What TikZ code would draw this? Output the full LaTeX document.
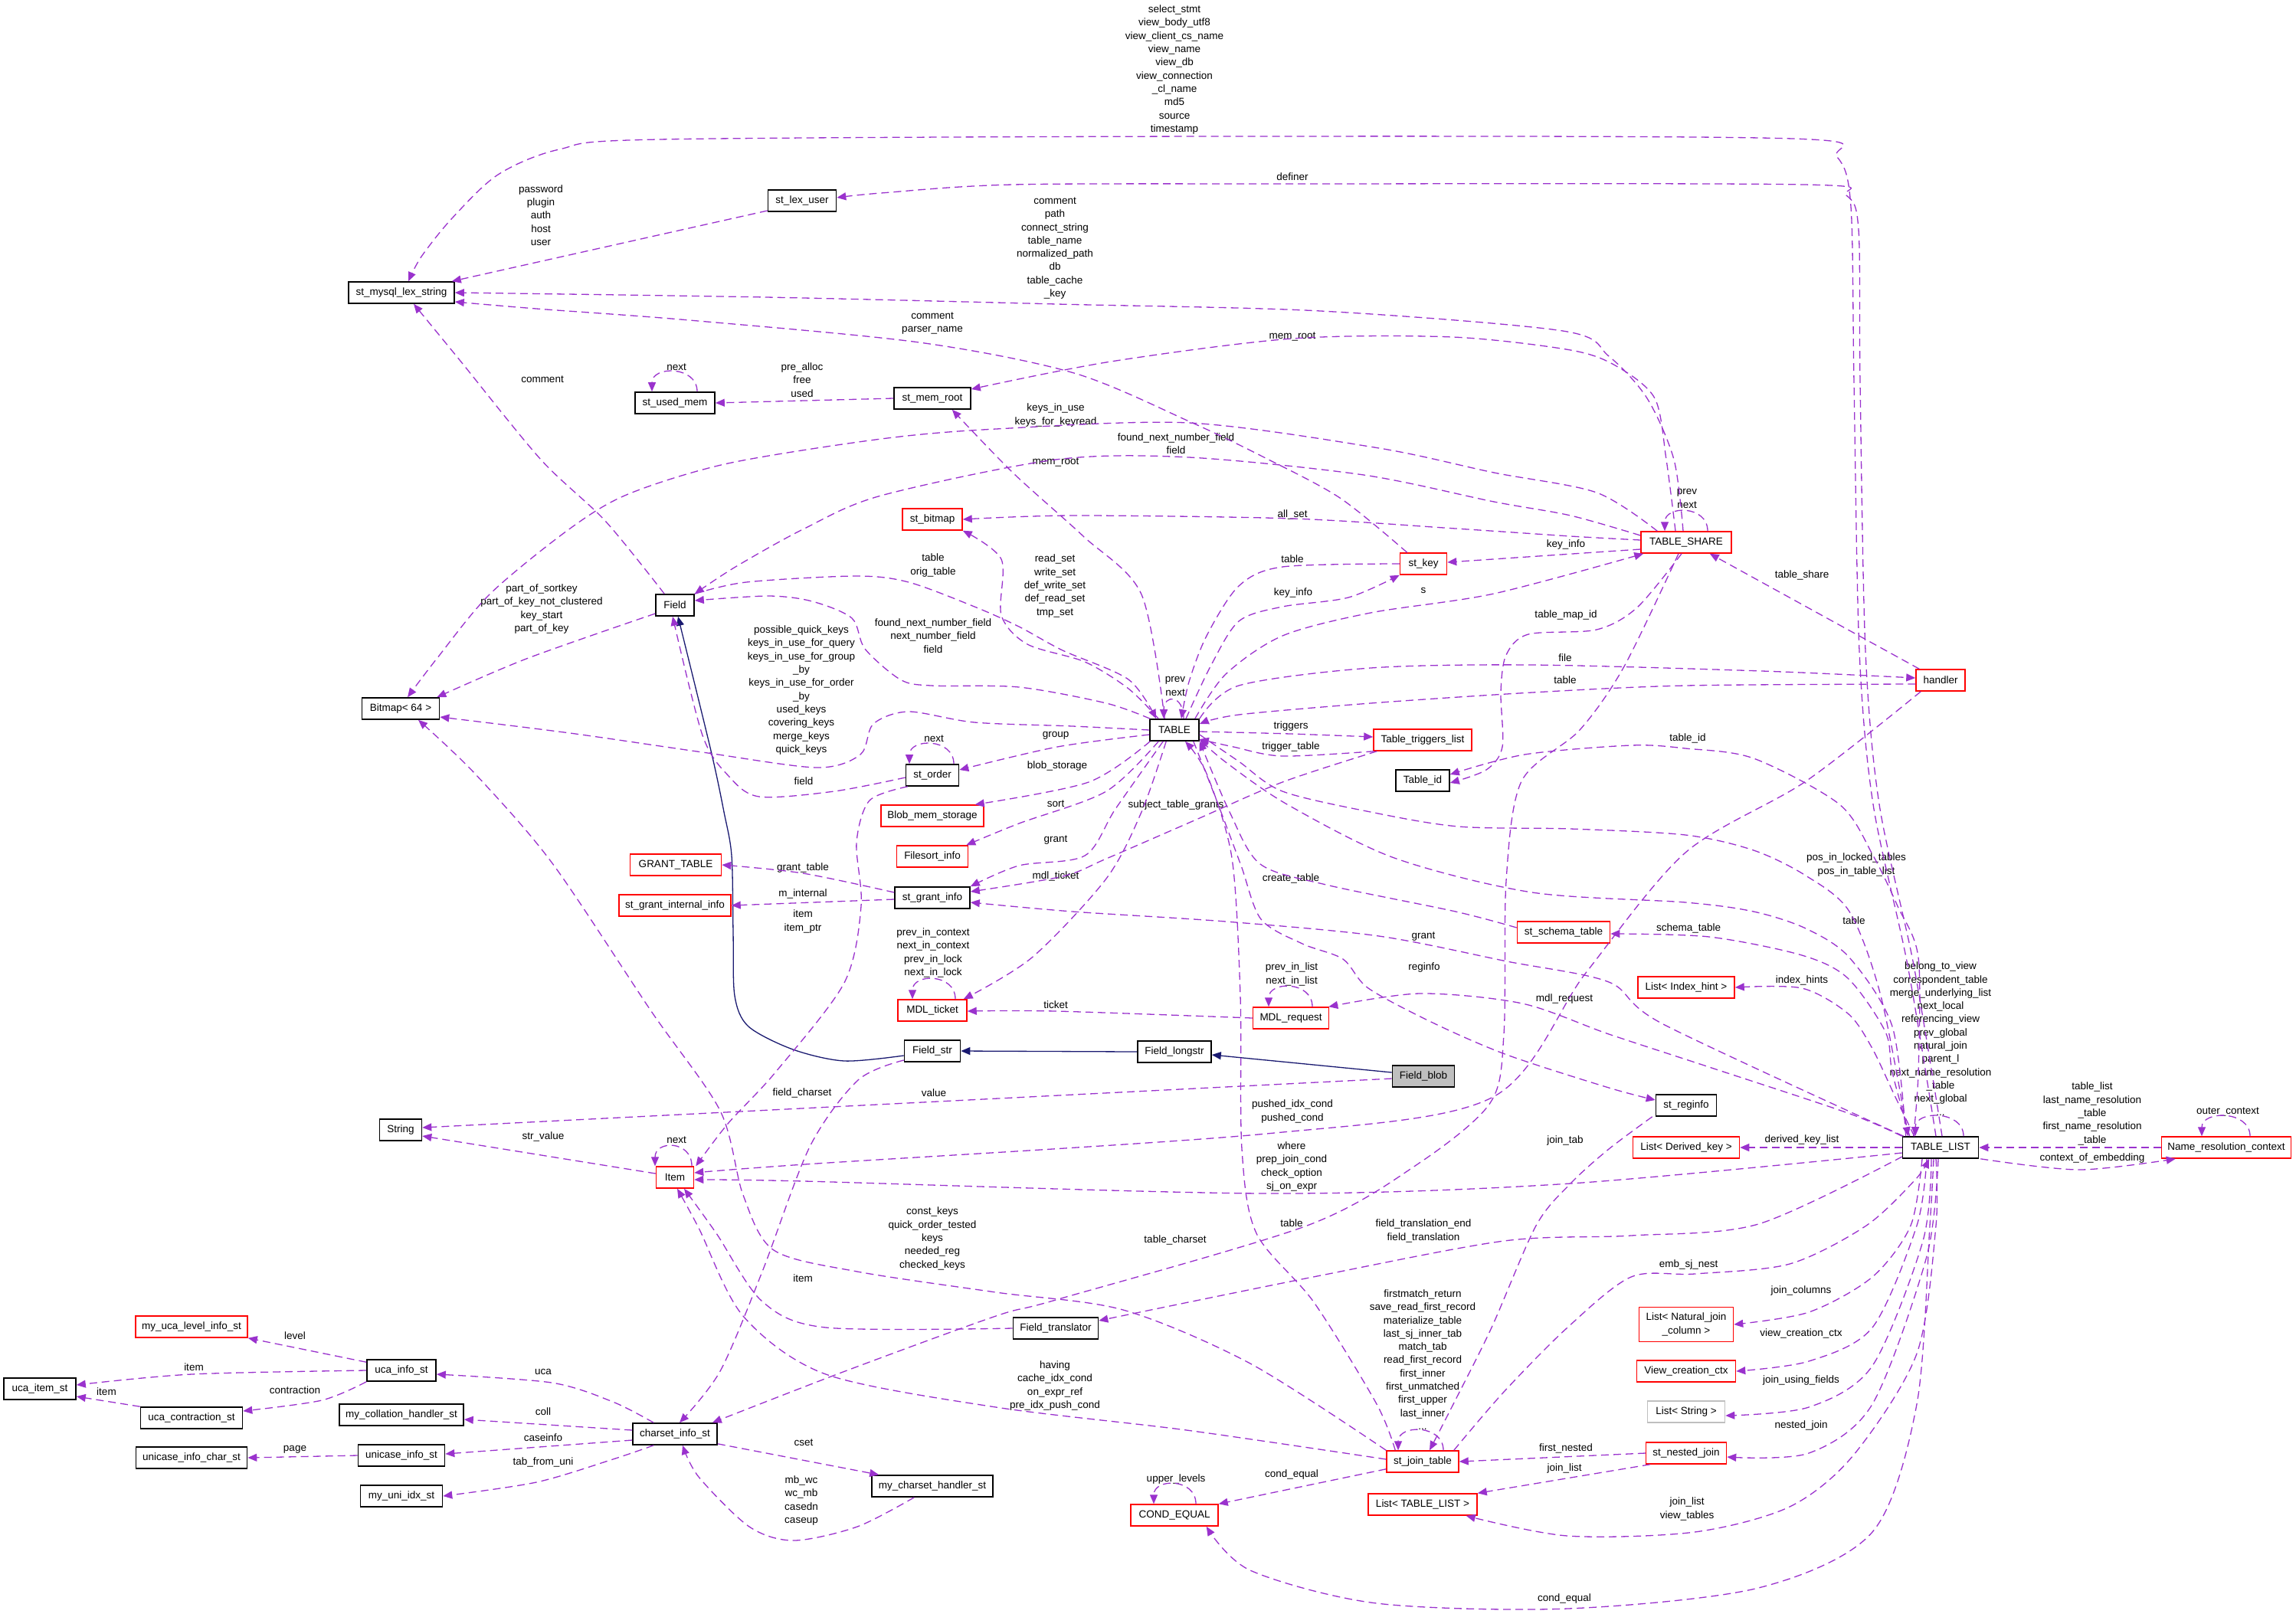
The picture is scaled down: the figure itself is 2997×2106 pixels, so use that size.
\documentclass[tikz,border=0pt]{standalone}
\usepackage{fontspec}
\setmainfont{Liberation Sans}
\usetikzlibrary{arrows.meta,calc}
\definecolor{depc}{RGB}{154,50,205}
\definecolor{inhc}{RGB}{25,25,112}
\definecolor{boxred}{RGB}{255,0,0}
\newcommand{\dgfont}{\fontsize{6.75}{8.65}\selectfont}
\tikzset{
  cls/.style={draw=black, line width=0.8pt, fill=white, minimum height=14pt, inner xsep=2pt, inner ysep=1pt, font=\dgfont},
  rcls/.style={cls, draw=boxred, line width=0.75pt},
  lbl/.style={font=\dgfont, align=center, inner sep=0pt},
  dep/.style={draw=depc, line width=0.65pt, dash pattern=on 5pt off 3pt, -{Triangle[length=6pt,width=5pt]}},
  inh/.style={draw=inhc, line width=0.65pt, -{Triangle[length=6pt,width=5pt]}},
}
\begin{document}
\begin{tikzpicture}[x=0.5pt,y=-0.5pt]
\useasboundingbox (0,0) rectangle (2997,2106);
% ---------- nodes ----------
\node[cls,minimum width=69pt] (smls) at (524,382) {st\_mysql\_lex\_string};
\node[cls,minimum width=44.5pt] (slu) at (1047,262) {st\_lex\_user};
\node[cls,minimum width=52pt] (sum) at (881,526) {st\_used\_mem};
\node[cls,minimum width=50pt] (smr) at (1217,520) {st\_mem\_root};
\node[rcls,minimum width=39pt] (sbm) at (1217,678) {st\_bitmap};
\node[cls,minimum width=25pt] (fld) at (881,790) {Field};
\node[cls,minimum width=50.5pt] (bmp) at (523,925) {Bitmap< 64 >};
\node[cls,minimum width=32pt] (tbl) at (1533,953) {TABLE};
\node[rcls,minimum width=59pt] (tsh) at (2201,708) {TABLE\_SHARE};
\node[rcls,minimum width=32pt] (hnd) at (2533,888) {handler};
\node[rcls,minimum width=30.5pt] (skey) at (1858,736) {st\_key};
\node[rcls,minimum width=64pt] (ttl) at (1857,966) {Table\_triggers\_list};
\node[cls,minimum width=35pt] (tid) at (1857,1019) {Table\_id};
\node[cls,minimum width=34.5pt] (sord) at (1217,1012) {st\_order};
\node[rcls,minimum width=67pt] (bms) at (1217,1065) {Blob\_mem\_storage};
\node[rcls,minimum width=46.5pt] (fsi) at (1217,1118) {Filesort\_info};
\node[rcls,minimum width=59.5pt] (gtab) at (882,1129) {GRANT\_TABLE};
\node[rcls,minimum width=73pt] (sgii) at (881,1182) {st\_grant\_internal\_info};
\node[cls,minimum width=49pt] (sgi) at (1217,1172) {st\_grant\_info};
\node[rcls,minimum width=45pt] (mdlt) at (1217,1319) {MDL\_ticket};
\node[rcls,minimum width=49.5pt] (mdlr) at (1685,1329) {MDL\_request};
\node[cls,minimum width=36.5pt] (fstr) at (1217,1372) {Field\_str};
\node[cls,minimum width=48pt] (flong) at (1533,1373) {Field\_longstr};
\node[cls,fill=gray!50,minimum width=40.5pt] (fblob) at (1858,1405) {Field\_blob};
\node[rcls,minimum width=60.5pt] (sst) at (2041,1217) {st\_schema\_table};
\node[rcls,minimum width=63pt] (lih) at (2201,1289) {List< Index\_hint >};
\node[cls,minimum width=39.5pt] (sreg) at (2201,1443) {st\_reginfo};
\node[rcls,minimum width=69.5pt] (ldk) at (2201,1498) {List< Derived\_key >};
\node[cls,minimum width=49.5pt] (tlist) at (2533,1498) {TABLE\_LIST};
\node[rcls,minimum width=84.5pt] (nrc) at (2906,1498) {Name\_resolution\_context};
\node[cls,minimum width=27.5pt] (str) at (523,1475) {String};
\node[rcls,minimum width=24.5pt] (item) at (881,1537) {Item};
\node[cls,minimum width=55.5pt] (ftr) at (1378,1734) {Field\_translator};
\node[rcls,minimum width=61.5pt,minimum height=22.5pt,align=center] (lnj) at (2201,1729) {List< Natural\_join\\\_column >};
\node[rcls,minimum width=64.5pt] (vcc) at (2201,1790) {View\_creation\_ctx};
\node[cls,draw=gray!50,minimum width=50.5pt] (lstr) at (2201,1843) {List< String >};
\node[rcls,minimum width=52.5pt] (snj) at (2201,1897) {st\_nested\_join};
\node[rcls,minimum width=47pt] (sjt) at (1857,1908) {st\_join\_table};
\node[rcls,minimum width=57pt] (ceq) at (1533,1978) {COND\_EQUAL};
\node[rcls,minimum width=71pt] (ltl) at (1857,1964) {List< TABLE\_LIST >};
\node[rcls,minimum width=73pt] (muls) at (250,1732) {my\_uca\_level\_info\_st};
\node[cls,minimum width=45pt] (uis) at (524,1789) {uca\_info\_st};
\node[cls,minimum width=47pt] (uit) at (52,1813) {uca\_item\_st};
\node[cls,minimum width=66.5pt] (ucs) at (250,1851) {uca\_contraction\_st};
\node[cls,minimum width=81pt] (mchs) at (524,1847) {my\_collation\_handler\_st};
\node[cls,minimum width=55pt] (cis) at (881,1872) {charset\_info\_st};
\node[cls,minimum width=72.5pt] (uics) at (250,1903) {unicase\_info\_char\_st};
\node[cls,minimum width=56.5pt] (uicis) at (524,1900) {unicase\_info\_st};
\node[cls,minimum width=53.5pt] (muis) at (524,1953) {my\_uni\_idx\_st};
\node[cls,minimum width=79pt] (mcsh) at (1217,1940) {my\_charset\_handler\_st};
% ---------- labels ----------
\node[lbl] (l01) at (706,281) {password\\plugin\\auth\\host\\user};
\node[lbl] (l02) at (708,495) {comment};
\node[lbl] (l03) at (883,479) {next};
\node[lbl] (l04) at (1047,496) {pre\_alloc\\free\\used};
\node[lbl] (l05) at (1533,91) {select\_stmt\\view\_body\_utf8\\view\_client\_cs\_name\\view\_name\\view\_db\\view\_connection\\\_cl\_name\\md5\\source\\timestamp};
\node[lbl] (l06) at (1687,231) {definer};
\node[lbl] (l07) at (1377,324) {comment\\path\\connect\_string\\table\_name\\normalized\_path\\db\\table\_cache\\\_key};
\node[lbl] (l08) at (1217,422) {comment\\parser\_name};
\node[lbl] (l09) at (1687,439) {mem\_root};
\node[lbl] (l10) at (1378,542) {keys\_in\_use\\keys\_for\_keyread};
\node[lbl] (l11) at (1535,579) {found\_next\_number\_field\\field};
\node[lbl] (l12) at (1378,603) {mem\_root};
\node[lbl] (l13) at (1687,672) {all\_set};
\node[lbl] (l14) at (2202,651) {prev\\next};
\node[lbl] (l15) at (2044,711) {key\_info};
\node[lbl] (l16) at (2352,751) {table\_share};
\node[lbl] (l17) at (2044,803) {table\_map\_id};
\node[lbl] (l18) at (2043,859) {file};
\node[lbl] (l19) at (2043,888) {table};
\node[lbl] (l20) at (2203,964) {table\_id};
\node[lbl] (l21) at (707,795) {part\_of\_sortkey\\part\_of\_key\_not\_clustered\\key\_start\\part\_of\_key};
\node[lbl] (l22) at (1218,738) {table\\orig\_table};
\node[lbl] (l23) at (1218,830) {found\_next\_number\_field\\next\_number\_field\\field};
\node[lbl] (l24) at (1046,901) {possible\_quick\_keys\\keys\_in\_use\_for\_query\\keys\_in\_use\_for\_group\\\_by\\keys\_in\_use\_for\_order\\\_by\\used\_keys\\covering\_keys\\merge\_keys\\quick\_keys};
\node[lbl] (l25) at (1219,964) {next};
\node[lbl] (l26) at (1049,1020) {field};
\node[lbl] (l27) at (1377,765) {read\_set\\write\_set\\def\_write\_set\\def\_read\_set\\tmp\_set};
\node[lbl] (l28) at (1687,730) {table};
\node[lbl] (l29) at (1688,774) {key\_info};
\node[lbl] (l30) at (1858,771) {s};
\node[lbl] (l31) at (1534,896) {prev\\next};
\node[lbl] (l32) at (1378,960) {group};
\node[lbl] (l33) at (1685,948) {triggers};
\node[lbl] (l34) at (1685,975) {trigger\_table};
\node[lbl] (l35) at (1380,1000) {blob\_storage};
\node[lbl] (l36) at (1378,1049) {sort};
\node[lbl] (l37) at (1535,1051) {subject\_table\_grants};
\node[lbl] (l38) at (1378,1097) {grant};
\node[lbl] (l39) at (1378,1144) {mdl\_ticket};
\node[lbl] (l40) at (1685,1147) {create\_table};
\node[lbl] (l41) at (1858,1223) {grant};
\node[lbl] (l42) at (1048,1133) {grant\_table};
\node[lbl] (l43) at (1048,1167) {m\_internal};
\node[lbl] (l44) at (1048,1203) {item\\item\_ptr};
\node[lbl] (l45) at (1218,1244) {prev\_in\_context\\next\_in\_context\\prev\_in\_lock\\next\_in\_lock};
\node[lbl] (l46) at (1378,1312) {ticket};
\node[lbl] (l47) at (1686,1272) {prev\_in\_list\\next\_in\_list};
\node[lbl] (l48) at (1859,1263) {reginfo};
\node[lbl] (l49) at (2042,1304) {mdl\_request};
\node[lbl] (l50) at (1047,1427) {field\_charset};
\node[lbl] (l51) at (1219,1427) {value};
\node[lbl] (l52) at (1687,1451) {pushed\_idx\_cond\\pushed\_cond};
\node[lbl] (l53) at (1686,1523) {where\\prep\_join\_cond\\check\_option\\sj\_on\_expr};
\node[lbl] (l54) at (2043,1489) {join\_tab};
\node[lbl] (l55) at (1217,1617) {const\_keys\\quick\_order\_tested\\keys\\needed\_reg\\checked\_keys};
\node[lbl] (l56) at (1686,1597) {table};
\node[lbl] (l57) at (1534,1619) {table\_charset};
\node[lbl] (l58) at (1858,1607) {field\_translation\_end\\field\_translation};
\node[lbl] (l59) at (1857,1775) {firstmatch\_return\\save\_read\_first\_record\\materialize\_table\\last\_sj\_inner\_tab\\match\_tab\\read\_first\_record\\first\_inner\\first\_unmatched\\first\_upper\\last\_inner\\...};
\node[lbl] (l60) at (1377,1809) {having\\cache\_idx\_cond\\on\_expr\_ref\\pre\_idx\_push\_cond};
\node[lbl] (l61) at (1048,1669) {item};
\node[lbl] (l62) at (1686,1925) {cond\_equal};
\node[lbl] (l63) at (1535,1931) {upper\_levels};
\node[lbl] (l64) at (2044,1891) {first\_nested};
\node[lbl] (l65) at (2042,1917) {join\_list};
\node[lbl] (l66) at (2202,1970) {join\_list\\view\_tables};
\node[lbl] (l67) at (2042,2087) {cond\_equal};
\node[lbl] (l68) at (2204,1212) {schema\_table};
\node[lbl] (l69) at (2352,1280) {index\_hints};
\node[lbl] (l70) at (2533,1356) {belong\_to\_view\\correspondent\_table\\merge\_underlying\_list\\next\_local\\referencing\_view\\prev\_global\\natural\_join\\parent\_l\\next\_name\_resolution\\\_table\\next\_global\\...};
\node[lbl] (l71) at (2352,1488) {derived\_key\_list};
\node[lbl] (l72) at (2731,1454) {table\_list\\last\_name\_resolution\\\_table\\first\_name\_resolution\\\_table};
\node[lbl] (l73) at (2731,1512) {context\_of\_embedding};
\node[lbl] (l74) at (2908,1451) {outer\_context};
\node[lbl] (l75) at (2204,1651) {emb\_sj\_nest};
\node[lbl] (l76) at (2351,1685) {join\_columns};
\node[lbl] (l77) at (2351,1741) {view\_creation\_ctx};
\node[lbl] (l78) at (2351,1802) {join\_using\_fields};
\node[lbl] (l79) at (2351,1861) {nested\_join};
\node[lbl] (l80) at (2423,1129) {pos\_in\_locked\_tables\\pos\_in\_table\_list};
\node[lbl] (l81) at (2420,1202) {table};
\node[lbl] (l82) at (709,1484) {str\_value};
\node[lbl] (l83) at (883,1488) {next};
\node[lbl] (l84) at (385,1744) {level};
\node[lbl] (l85) at (253,1785) {item};
\node[lbl] (l86) at (139,1817) {item};
\node[lbl] (l87) at (385,1815) {contraction};
\node[lbl] (l88) at (709,1791) {uca};
\node[lbl] (l89) at (709,1843) {coll};
\node[lbl] (l90) at (709,1877) {caseinfo};
\node[lbl] (l91) at (1049,1883) {cset};
\node[lbl] (l92) at (385,1892) {page};
\node[lbl] (l93) at (709,1909) {tab\_from\_uni};
\node[lbl] (l94) at (1046,1959) {mb\_wc\\wc\_mb\\casedn\\caseup};
% ---------- inheritance ----------
\draw[inh] ($(fblob.west)+(0,-5)$) -- ($(flong.east)+(0,4)$);
\draw[inh] (flong.west) -- (fstr.east);
\draw[inh] plot[smooth] coordinates {($(fstr.west)+(0,6)$) (1102,1385) (1035,1370) (977,1340) (959,1300) (957,1217) (955,1117) (945,1060) (928,980) ($(fld.south)+(4,0)$)};
% ---------- usage: top ----------
\draw[dep] plot[smooth] coordinates {($(tlist.north)+(-6,0)$) (2490,1260) (2445,1050) (2427,850) (2420,500) (2416,270) (2398,205) (2340,181) (1600,178) (860,182) (730,195) (650,228) (590,285) (550,335) ($(smls.north)+(9,0)$)};
\draw[dep] plot[smooth] coordinates {($(tlist.north)+(2,0)$) (2498,1260) (2453,1050) (2435,850) (2428,500) (2426,300) (2410,255) (2355,241) (1687,240) (1322,241) (1150,252) ($(slu.east)+(0,-4)$)};
\draw[dep] ($(slu.west)+(0,13)$) -- ($(smls.north east)+(-4,0)$);
\draw[dep] plot[smooth] coordinates {($(tsh.north)+(-4,0)$) (2185,600) (2150,520) (2100,465) (2040,432) (1724,406) (1380,397) (1000,388) (smls.east)};
\draw[dep] plot[smooth] coordinates {($(tsh.north)+(-14,0)$) (2175,600) (2160,520) (2110,478) (2050,457) (1896,440) (1687,442) (1450,472) ($(smr.east)+(0,-12)$)};
\draw[dep] (smr.west) -- (sum.east);
\draw[dep] ($(sum.north)+(29,0)$) .. controls +(0,-34) and +(0,-34) .. ($(sum.north)+(-30,0)$);
\draw[dep] plot[smooth] coordinates {($(tsh.north west)+(22,0)$) (2084,643) (1950,617) (1800,585) (1552,552) (1300,560) (1150,573) (950,605) (820,645) (744,690) (640,775) (570,860) ($(bmp.north)+(9,0)$)};
\draw[dep] plot[smooth] coordinates {($(tsh.west)+(0,-9)$) (2050,673) (1950,655) (1780,620) (1552,597) (1378,600) (1150,647) (1050,690) (960,740) (fld.north east)};
\draw[dep] plot[smooth] coordinates {($(tsh.west)+(0,-3)$) (2050,700) (1900,690) (1687,677) (1400,673) (sbm.east)};
\draw[dep] ($(tsh.west)+(0,9)$) -- ($(skey.east)+(0,-2)$);
\draw[dep] plot[smooth] coordinates {($(tbl.north east)+(-6,0)$) (1600,880) (1674,830) (1789,800) (1950,775) ($(tsh.south west)+(4,0)$)};
\draw[dep] ($(tsh.north)+(28,0)$) .. controls +(0,-34) and +(0,-34) .. ($(tsh.north)+(-28,0)$);
\draw[dep] ($(hnd.north west)+(5,0)$) -- ($(tsh.south east)+(-29,0)$);
\draw[dep] plot[smooth] coordinates {($(tsh.south)+(-6,0)$) (2137,793) (2084,822) (1995,828) (1966,855) (1959,903) (1961,975) (1940,1005) ($(tid.east)+(0,3)$)};
\draw[dep] plot[smooth] coordinates {($(tlist.north west)+(15,0)$) (2504,1400) (2504,1250) (2477,1183) (2445,1117) (2401,1050) (2289,990) (2200,977) (2129,973) (1990,985) ($(tid.east)+(0,-8)$)};
\draw[dep] plot[smooth] coordinates {(tbl.north east) (1617,895) (1789,872) (2000,868) (2300,876) ($(hnd.west)+(0,-3)$)};
\draw[dep] plot[smooth] coordinates {($(hnd.west)+(0,5)$) (2200,895) (2000,904) (1789,918) (1617,933) ($(tbl.east)+(0,-8)$)};
\draw[dep] plot[smooth] coordinates {($(tbl.north)+(15,0)$) (1580,870) (1617,811) (1674,792) (1760,780) (skey.south west)};
\draw[dep] plot[smooth] coordinates {(skey.west) (1674,740) (1617,765) (1575,830) (1552,890) ($(tbl.north)+(9,0)$)};
\draw[dep] ($(tbl.north)+(12,0)$) .. controls +(0,-32) and +(0,-32) .. ($(tbl.north)+(-14,0)$);
\draw[dep] plot[smooth] coordinates {($(tbl.north west)+(12,0)$) (1473,899) (1416,864) (1341,841) (1307,803) (1307,730) (sbm.south east)};
\draw[dep] plot[smooth] coordinates {($(tbl.north west)+(20,0)$) (1490,776) (1414,700) (1322,617) ($(smr.south east)+(-25,0)$)};
\draw[dep] plot[smooth] coordinates {($(skey.north west)+(10,0)$) (1749,650) (1650,597) (1552,550) (1402,487) (1200,447) (900,418) (700,403) ($(smls.east)+(0,12)$)};
\draw[dep] plot[smooth] coordinates {($(tbl.north west)+(1,0)$) (1444,918) (1330,897) (1215,895) (1175,887) (1129,847) (1112,807) (1060,785) (1003,778) ($(fld.east)+(0,-6)$)};
\draw[dep] plot[smooth] coordinates {(fld.north east) (974,760) (1117,752) (1186,760) (1272,792) (1330,818) (1387,849) (1473,887) ($(tbl.north west)+(9,0)$)};
\draw[dep] plot[smooth] coordinates {(tbl.west) (1400,948) (1272,943) (1186,929) (1140,945) (1123,985) (1066,1002) (917,982) (744,957) ($(bmp.east)+(0,11)$)};
\draw[dep] plot[smooth] coordinates {($(fld.north west)+(12,0)$) (790,680) (706,600) (600,470) ($(smls.south)+(16,0)$)};
\draw[dep] plot[smooth] coordinates {($(fld.west)+(0,11)$) (687,860) ($(bmp.north east)+(-4,0)$)};
% ---------- usage: middle ----------
\draw[dep] plot[smooth] coordinates {($(tbl.west)+(0,6)$) (1380,975) ($(sord.east)+(0,-7)$)};
\draw[dep] ($(sord.north)+(28,0)$) .. controls +(0,-34) and +(0,-34) .. ($(sord.north)+(-30,0)$);
\draw[dep] plot[smooth] coordinates {($(sord.west)+(0,3)$) (1089,1033) (991,1040) (951,1013) (917,960) ($(fld.south)+(-3,0)$)};
\draw[dep] plot[smooth] coordinates {($(sord.south west)+(3,0)$) (1135,1045) (1118,1100) (1124,1183) (1102,1283) (1012,1400) (950,1467) ($(item.north east)+(2,0)$)};
\draw[dep] plot[smooth] coordinates {($(tbl.south west)+(1,0)$) (1421,1021) ($(bms.north east)+(-12,0)$)};
\draw[dep] plot[smooth] coordinates {($(tbl.south west)+(12,0)$) (1444,1033) (1330,1075) ($(fsi.north east)+(-3,0)$)};
\draw[dep] plot[smooth] coordinates {($(tbl.south west)+(18,0)$) (1456,1056) (1416,1117) (1330,1130) (sgi.north east)};
\draw[dep] plot[smooth] coordinates {($(tbl.south west)+(22,0)$) (1490,1060) (1444,1147) (1347,1250) ($(mdlt.north east)+(-5,0)$)};
\draw[dep] plot[smooth] coordinates {($(ttl.south west)+(5,0)$) (1674,1021) (1559,1071) (1444,1121) (1387,1144) ($(sgi.east)+(0,-8)$)};
\draw[dep] plot[smooth] coordinates {($(tbl.east)+(0,2)$) (1685,958) ($(ttl.west)+(0,-4)$)};
\draw[dep] plot[smooth] coordinates {($(ttl.south west)+(1,0)$) (1674,987) (1610,975) ($(tbl.east)+(0,12)$)};
\draw[dep] plot[smooth] coordinates {($(sgi.west)+(0,-7)$) (1048,1140) (gtab.east)};
\draw[dep] ($(sgi.west)+(0,2)$) -- (sgii.east);
\draw[dep] ($(mdlt.north)+(30,0)$) .. controls +(0,-34) and +(0,-34) .. ($(mdlt.north)+(-26,0)$);
\draw[dep] plot[smooth] coordinates {(mdlr.west) (1378,1320) ($(mdlt.east)+(0,1)$)};
\draw[dep] ($(mdlr.north)+(28,0)$) .. controls +(0,-34) and +(0,-34) .. ($(mdlr.north)+(-29,0)$);
\draw[dep] plot[smooth] coordinates {(tlist.north west) (2412,1453) (2231,1393) (2100,1350) (1987,1310) (1853,1297) ($(mdlr.north east)+(-1,0)$)};
\draw[dep] plot[smooth] coordinates {($(tlist.north west)+(2,0)$) (2171,1337) (2100,1282) (1967,1255) (1800,1222) (1600,1203) (1400,1190) ($(sgi.east)+(0,6)$)};
\draw[dep] plot[smooth] coordinates {($(tbl.south east)+(-8,0)$) (1590,1050) (1620,1130) (1646,1200) (1700,1232) (1753,1252) (1786,1290) (1870,1335) (1967,1377) (2100,1420) ($(sreg.west)+(0,-7)$)};
\draw[dep] plot[smooth] coordinates {($(sjt.north west)+(12,0)$) (1797,1833) (1715,1700) (1640,1610) (1621,1500) (1619,1300) (1608,1120) (1575,1010) ($(tbl.south)+(14,0)$)};
\draw[dep] plot[smooth] coordinates {($(sst.west)+(0,-6)$) (1900,1190) (1731,1155) (1645,1128) (1605,1060) ($(tbl.south east)+(0,0)$)};
\draw[dep] plot[smooth] coordinates {($(tlist.north west)+(5,0)$) (2470,1340) (2414,1250) (2357,1212) (2289,1190) (2200,1178) (2000,1165) (1820,1120) (1680,1050) (1600,995) ($(tbl.east)+(0,12)$)};
\draw[dep] plot[smooth] coordinates {($(tbl.east)+(0,6)$) (1617,994) (1674,1033) (1789,1060) (1904,1079) (2050,1082) (2200,1090) (2289,1110) (2357,1143) (2414,1190) (2455,1300) ($(tlist.north west)+(8,0)$)};
\draw[dep] plot[smooth] coordinates {($(tlist.north west)+(10,0)$) (2470,1400) (2461,1347) (2412,1277) (2352,1247) (2231,1223) ($(sst.east)+(0,2)$)};
\draw[dep] plot[smooth] coordinates {($(tlist.north west)+(16,0)$) (2473,1430) (2443,1367) (2412,1323) (2352,1290) (lih.east)};
\draw[dep] (tlist.west) -- (ldk.east);
\draw[dep] plot[smooth] coordinates {($(tlist.west)+(0,7)$) (2050,1545) (1653,1558) (1050,1542) ($(item.east)+(0,3)$)};
\draw[dep] plot[smooth] coordinates {($(hnd.south west)+(7,0)$) (2357,1020) (2200,1113) (2070,1270) (1947,1433) (1653,1480) (1050,1520) ($(item.east)+(0,-6)$)};
\draw[dep] plot[smooth] coordinates {($(tlist.west)+(0,12)$) (2295,1598) (2129,1613) (1963,1620) (1714,1667) ($(ftr.east)+(0,-10)$)};
\draw[dep] plot[smooth] coordinates {($(sjt.north east)+(-7,0)$) (1963,1817) (2046,1733) (2129,1667) (2212,1663) (2336,1650) (2436,1600) (2500,1540) ($(tlist.south)+(-15,0)$)};
\draw[dep] plot[smooth] coordinates {($(sreg.south west)+(-4,0)$) (2100,1500) (2050,1545) (2005,1600) (1947,1733) (1897,1833) ($(sjt.north)+(9,0)$)};
\draw[dep] ($(sjt.north)+(27,0)$) .. controls +(0,-34) and +(0,-34) .. ($(sjt.north)+(-32,0)$);
\draw[dep] ($(sjt.south west)+(0,-5)$) -- (ceq.north east);
\draw[dep] ($(ceq.north)+(28,0)$) .. controls +(0,-34) and +(0,-34) .. ($(ceq.north)+(-27,0)$);
\draw[dep] plot[smooth] coordinates {(sjt.north west) (1632,1780) (1466,1710) (1300,1687) (1119,1660) (1010,1632) (970,1560) (940,1450) (850,1320) (721,1127) (620,1010) ($(bmp.south)+(23,0)$)};
\draw[dep] plot[smooth] coordinates {($(sjt.west)+(0,-3)$) (1549,1867) (1300,1837) (1078,1794) (970,1718) (912,1603) ($(item.south)+(3,0)$)};
\draw[dep] plot[smooth] coordinates {(ftr.west) (1078,1733) (995,1699) (935,1610) ($(item.south)+(12,0)$)};
\draw[dep] (snj.west) -- (sjt.east);
\draw[dep] ($(snj.south west)+(6,0)$) -- (ltl.north east);
\draw[dep] plot[smooth] coordinates {($(tlist.south)+(-6,0)$) (2527,1600) (2502,1767) (2419,1900) (2336,1967) (2212,2000) (2046,2005) ($(ltl.south east)+(-15,0)$)};
\draw[dep] plot[smooth] coordinates {($(tlist.south)+(-9,0)$) (2519,1600) (2502,1833) (2444,2000) (2295,2073) (2046,2100) (1797,2093) (1632,2050) ($(ceq.south east)+(-16,0)$)};
\draw[dep] plot[smooth] coordinates {($(tlist.south)+(-24,0)$) (2494,1600) (2444,1667) (2361,1713) (lnj.east)};
\draw[dep] plot[smooth] coordinates {($(tlist.south)+(-18,0)$) (2502,1600) (2444,1733) (2361,1777) (vcc.east)};
\draw[dep] plot[smooth] coordinates {($(tlist.south)+(-12,0)$) (2510,1620) (2444,1783) (2361,1837) ($(lstr.east)+(0,5)$)};
\draw[dep] plot[smooth] coordinates {($(tlist.south)+(-3,0)$) (2515,1640) (2444,1833) (2361,1897) ($(snj.east)+(0,5)$)};
\draw[dep] (nrc.west) -- (tlist.east);
\draw[dep] plot[smooth] coordinates {($(tlist.south east)+(2,0)$) (2714,1527) ($(nrc.south west)+(19,0)$)};
\draw[dep] ($(nrc.north)+(31,0)$) .. controls +(0,-34) and +(0,-34) .. ($(nrc.north)+(-32,0)$);
\draw[dep] ($(tlist.north)+(30,0)$) .. controls +(0,-34) and +(0,-34) .. ($(tlist.north)+(-33,0)$);
% ---------- usage: bottom left ----------
\draw[dep] ($(fblob.west)+(0,3)$) -- ($(str.east)+(0,-3)$);
\draw[dep] ($(item.west)+(0,-5)$) -- ($(str.east)+(0,8)$);
\draw[dep] ($(item.north)+(22,0)$) .. controls +(0,-34) and +(0,-34) .. ($(item.north)+(-26,0)$);
\draw[dep] plot[smooth] coordinates {($(fstr.west)+(0,12)$) (1120,1410) (1057,1497) (995,1660) (940,1790) ($(cis.north)+(6,0)$)};
\draw[dep] plot[smooth] coordinates {($(tsh.south)+(-10,0)$) (2120,870) (2062,953) (1986,1020) (1966,1150) (1963,1350) (1945,1440) (1850,1520) (1706,1600) (1378,1697) (1300,1718) (1103,1790) ($(cis.north east)+(-7,0)$)};
\draw[dep] plot[smooth] coordinates {($(cis.north west)+(28,0)$) (800,1830) (720,1805) ($(uis.east)+(0,5)$)};
\draw[dep] ($(cis.west)+(0,-5)$) -- ($(mchs.east)+(0,6)$);
\draw[dep] ($(cis.west)+(0,8)$) -- ($(uicis.east)+(0,-2)$);
\draw[dep] plot[smooth] coordinates {($(cis.south west)+(28,0)$) (800,1905) (700,1935) (muis.east)};
\draw[dep] ($(cis.south east)+(0,-2)$) -- ($(mcsh.north west)+(10,0)$);
\draw[dep] plot[smooth] coordinates {($(mcsh.south west)+(56,0)$) (1119,1993) (1036,2011) (978,1993) (912,1928) ($(cis.south)+(10,0)$)};
\draw[dep] ($(uis.north west)+(0,4)$) -- (muls.south east);
\draw[dep] plot[smooth] coordinates {(uis.west) (250,1794) ($(uit.east)+(0,-5)$)};
\draw[dep] plot[smooth] coordinates {(uis.south west) (420,1828) ($(ucs.east)+(0,-9)$)};
\draw[dep] (ucs.north west) -- ($(uit.east)+(0,10)$);
\draw[dep] (uicis.west) -- (uics.east);
\end{tikzpicture}
\end{document}
